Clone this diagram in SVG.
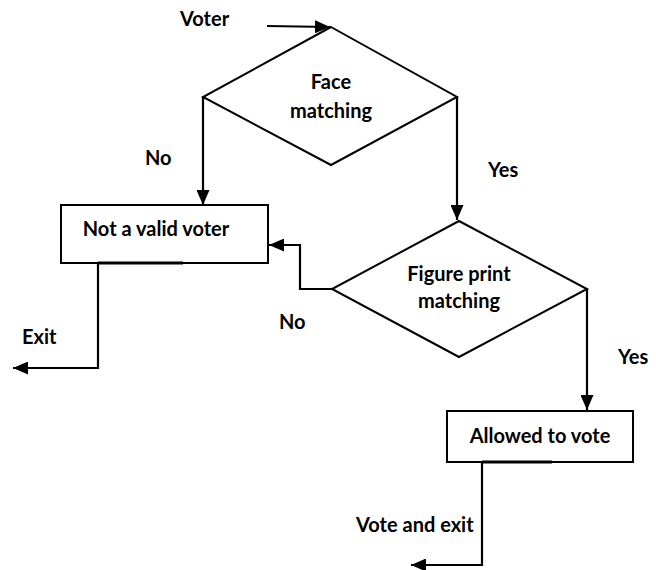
<svg xmlns="http://www.w3.org/2000/svg" width="656" height="570" viewBox="0 0 656 570">
<defs>
<marker id="ah" viewBox="0 0 15 13" refX="15" refY="6.5" markerWidth="15" markerHeight="13" markerUnits="userSpaceOnUse" orient="auto">
<path d="M0,0 L15,6.5 L0,13 Z" fill="#000"/>
</marker>
</defs>
<style>
.s{fill:#fff;stroke:#000;stroke-width:2}
.c{fill:none;stroke:#000;stroke-width:2.2}
.t{font-family:Lato,"Liberation Sans",sans-serif;font-weight:bold;font-size:20px;fill:#000}
.m{text-anchor:middle}
</style>
<rect width="656" height="570" fill="#fff"/>
<g id="face">
<polygon class="s" points="331,27 457,97 331,165 203,97"/>
<text class="t m" x="331" y="89">Face</text>
<text class="t m" x="331" y="118">matching</text>
</g>
<g id="invalid">
<rect class="s" x="61" y="205" width="207" height="58"/>
<text class="t m" x="156" y="236">Not a valid voter</text>
</g>
<g id="figure">
<polygon class="s" points="459,221 587,289 459,357 332,289"/>
<text class="t m" x="459" y="281">Figure print</text>
<text class="t m" x="459" y="308">matching</text>
</g>
<g id="allowed">
<rect class="s" x="447" y="411" width="186" height="51"/>
<text class="t m" x="540" y="443">Allowed to vote</text>
</g>
<g id="connectors">
<line class="c" x1="267" y1="26" x2="330" y2="27" marker-end="url(#ah)"/>
<polyline class="c" points="203,97 203,205" marker-end="url(#ah)"/>
<polyline class="c" points="457,97 457,220" marker-end="url(#ah)"/>
<polyline class="c" points="332,289 300,289 300,245 269,245" marker-end="url(#ah)"/>
<polyline class="c" points="98,263 98,368 13,368" marker-end="url(#ah)"/>
<polyline class="c" points="587,289 587,410" marker-end="url(#ah)"/>
<polyline class="c" points="482,462 482,565 411,565" marker-end="url(#ah)"/>
<line x1="98" y1="263" x2="183" y2="263" stroke="#000" stroke-width="3"/>
<line x1="482" y1="462" x2="552" y2="462" stroke="#000" stroke-width="3"/>
</g>
<g id="labels">
<text class="t" x="180" y="26">Voter</text>
<text class="t" x="145" y="165">No</text>
<text class="t" x="488" y="177">Yes</text>
<text class="t" x="279" y="329">No</text>
<text class="t" x="22" y="344">Exit</text>
<text class="t" x="618" y="364">Yes</text>
<text class="t" x="356" y="532">Vote and exit</text>
</g>
</svg>
